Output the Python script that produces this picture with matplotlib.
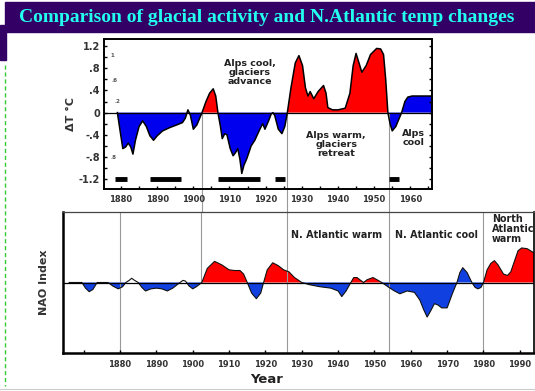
import numpy as np
import matplotlib.pyplot as plt
from matplotlib.patches import Rectangle
from matplotlib.lines import Line2D

# ---- upper panel: Alpine temperature anomaly (deg C) ----
t_years = [1879.0, 1879.8, 1880.5, 1881.3, 1882.0, 1882.7, 1883.3, 1884.0, 1885.0, 1886.0,
           1887.0, 1888.0, 1889.0, 1890.0, 1891.5, 1893.5, 1895.5, 1897.0, 1897.8, 1898.5,
           1899.2, 1900.0, 1901.0, 1902.4, 1903.5, 1904.5, 1905.5, 1906.2, 1906.8, 1907.5,
           1908.0, 1908.7, 1909.3, 1910.2, 1911.0, 1911.7, 1912.3, 1912.9, 1913.4, 1914.0,
           1914.8, 1916.0, 1917.0, 1918.4, 1919.2, 1919.8, 1920.8, 1921.5, 1922.0, 1922.5,
           1923.5, 1924.5, 1925.3, 1926.0, 1927.0, 1928.2, 1929.2, 1930.2, 1931.0, 1931.7,
           1932.3, 1932.7, 1933.3, 1934.5, 1936.0, 1936.7, 1937.2, 1938.5, 1940.0, 1942.0,
           1943.3, 1944.2, 1945.0, 1945.8, 1946.6, 1947.8, 1949.0, 1950.7, 1951.8, 1952.6,
           1953.2, 1953.8, 1954.4, 1955.0, 1956.0, 1957.6, 1958.5, 1959.3, 1960.5, 1962.0,
           1966.0]
t_anom = [0.0, -0.35, -0.65, -0.62, -0.55, -0.62, -0.75, -0.5, -0.25, -0.15,
          -0.25, -0.42, -0.5, -0.42, -0.33, -0.27, -0.22, -0.18, -0.1, 0.05,
          -0.05, -0.3, -0.22, 0.0, 0.2, 0.35, 0.43, 0.3, 0.0, -0.25,
          -0.47, -0.38, -0.4, -0.65, -0.78, -0.72, -0.65, -0.85, -1.1, -0.95,
          -0.83, -0.6, -0.5, -0.3, -0.2, -0.3, -0.15, -0.03, 0.0, -0.05,
          -0.3, -0.38, -0.25, 0.0, 0.45, 0.9, 1.03, 0.85, 0.45, 0.3,
          0.38, 0.33, 0.25, 0.38, 0.49, 0.35, 0.09, 0.05, 0.05, 0.08,
          0.35, 0.85, 1.07, 0.9, 0.73, 0.85, 1.05, 1.16, 1.15, 1.05,
          0.6, 0.0, -0.2, -0.33, -0.25, 0.0, 0.2, 0.28, 0.3, 0.3,
          0.3]
# glacier advance periods (black bars)
advance = [(1878.3, 1881.6), (1888.0, 1896.6), (1906.8, 1918.4), (1922.5, 1925.3), (1954.0, 1956.8)]

# ---- lower panel: NAO index ----
nao_years = [1866.0, 1869.5, 1870.5, 1871.5, 1872.5, 1873.7, 1876.7, 1878.0, 1879.5, 1880.7,
             1881.6, 1882.5, 1883.2, 1884.0, 1885.0, 1886.0, 1887.0, 1888.5, 1890.0, 1891.5,
             1893.0, 1894.5, 1896.5, 1897.3, 1898.0, 1899.0, 1900.0, 1901.0, 1902.5, 1904.0,
             1906.0, 1908.0, 1910.0, 1911.5, 1913.0, 1914.0, 1915.0, 1916.2, 1917.5, 1918.7,
             1919.5, 1920.5, 1922.0, 1923.5, 1925.0, 1926.5, 1928.0, 1930.0, 1932.0, 1935.0,
             1938.0, 1940.0, 1941.0, 1942.2, 1943.5, 1944.3, 1945.2, 1946.2, 1947.0, 1948.0,
             1949.6, 1951.0, 1952.0, 1954.0, 1955.5, 1957.0, 1959.0, 1961.0, 1962.5, 1963.5,
             1964.5, 1965.5, 1966.5, 1967.5, 1968.5, 1970.0, 1971.5, 1972.7, 1973.5, 1974.3,
             1975.5, 1976.8, 1977.7, 1978.5, 1979.3, 1980.0, 1981.0, 1982.0, 1983.0, 1984.0,
             1985.5, 1986.6, 1987.5, 1988.5, 1989.5, 1990.5, 1992.0, 1993.9]
nao = [0.0, 0.0, -0.08, -0.13, -0.1, 0.0, 0.0, -0.05, -0.09, -0.06,
       0.0, 0.03, 0.06, 0.03, 0.0, -0.07, -0.12, -0.09, -0.08, -0.09,
       -0.12, -0.08, 0.0, 0.03, 0.02, -0.05, -0.09, -0.06, 0.0, 0.2,
       0.3, 0.25, 0.18, 0.17, 0.17, 0.12, 0.0, -0.15, -0.23, -0.15,
       0.0, 0.18, 0.28, 0.24, 0.18, 0.15, 0.07, 0.0, -0.03, -0.06,
       -0.08, -0.12, -0.2, -0.12, 0.0, 0.07, 0.07, 0.03, 0.0, 0.04,
       0.07, 0.03, 0.0, -0.07, -0.12, -0.16, -0.12, -0.14, -0.25, -0.38,
       -0.49, -0.4, -0.3, -0.32, -0.36, -0.36, -0.15, 0.0, 0.14, 0.21,
       0.14, 0.0, -0.07, -0.09, -0.07, 0.0, 0.18, 0.27, 0.31, 0.25,
       0.12, 0.1, 0.15, 0.3, 0.45, 0.49, 0.48, 0.42]
nao_white = [(1882.0, 1885.0), (1896.5, 1898.5)]
nao_blue_pos = [(1972.7, 1976.8)]

RED = '#ff0000'
BLUE = '#0000ee'
BLUE2 = '#1040e0'

fig = plt.figure(figsize=(5.35, 3.91), dpi=100)
W, H = 535.0, 391.0

# title banner and slide decorations
fig.patches.append(Rectangle((5 / W, 1 - 32 / H), 530 / W, 30 / H, transform=fig.transFigure,
                             color='#330066', zorder=0))
fig.patches.append(Rectangle((0, 1 - 60 / H), 6 / W, 35 / H, transform=fig.transFigure,
                             color='#330066', zorder=0))
fig.lines.append(Line2D([5 / W, 5 / W], [1 - 65 / H, 1 - 386 / H], transform=fig.transFigure,
                        color='#33cc33', lw=1, ls=(0, (3, 2))))
fig.lines.append(Line2D([0, 1], [1 - 389 / H, 1 - 389 / H], transform=fig.transFigure,
                        color='#cccccc', lw=0.8))
fig.text(267 / W, 1 - 18 / H, 'Comparison of glacial activity and N.Atlantic temp changes',
         ha='center', va='center', color='#22ffee', fontsize=14, fontweight='bold',
         family='Liberation Serif')

# ---------------- upper panel ----------------
ax1 = fig.add_axes([104 / W, 1 - 189 / H, 328 / W, 150 / H])
x = np.array(t_years)
y = np.array(t_anom)
late = x > 1956.5
ax1.fill_between(x, 0, y, where=(y >= 0) & ~late, color=RED, interpolate=True, lw=0)
ax1.fill_between(x, 0, y, where=(y <= 0) | late, color=BLUE, interpolate=True, lw=0)
ax1.plot(x, y, color='black', lw=1.1)
ax1.axhline(0, color='black', lw=0.9)
for a, b in advance:
    ax1.plot([a, b], [-1.2, -1.2], color='black', lw=3.5, solid_capstyle='butt')
ax1.set_xlim(1875.3, 1966)
ax1.set_ylim(-1.38, 1.33)
zero_frac = 1.38 / (1.33 + 1.38)
for yr in [1902.4, 1926.0, 1954.0]:
    ax1.axvline(yr, ymin=-23 / 150, ymax=zero_frac, color='#999999', lw=0.8, clip_on=False, zorder=1)

ax1.set_xticks(np.arange(1880, 1961, 10))
ax1.set_xticks(np.arange(1880, 1966, 5), minor=True)
ax1.set_yticks([-1.2, -0.8, -0.4, 0, 0.4, 0.8, 1.2])
ax1.set_yticklabels(['-1.2', '-.8', '-.4', '0', '.4', '.8', '1.2'])
ax1.set_yticks([-1.0, -0.6, -0.2, 0.2, 0.6, 1.0], minor=True)
ax1.tick_params(axis='both', which='both', direction='in', length=2.5, width=1, colors='black',
                right=True)
ax1.tick_params(axis='x', labelsize=6, pad=4)
ax1.tick_params(axis='y', labelsize=7, pad=3)
for lab in ax1.get_xticklabels() + ax1.get_yticklabels():
    lab.set_fontweight('bold')
    lab.set_color('#333333')
for sp in ax1.spines.values():
    sp.set_linewidth(1.4)
ax1.set_ylabel('ΔT °C', fontsize=8, fontweight='bold', color='#333333', labelpad=2)

for s, (xx, yy) in zip(['1', '.6', '.2', '.8'], [(1877.0, 1.0), (1877.4, 0.55), (1878.3, 0.18), (1877.0, -0.83)]):
    ax1.text(xx, yy, s, fontsize=4, color='#555555', fontweight='bold')

ax1.text(1915.6, 0.72, 'Alps cool,\nglaciers\nadvance', ha='center', va='center', fontsize=6.8,
         fontweight='bold', color='#222222', linespacing=1.0)
ax1.text(1939.5, -0.58, 'Alps warm,\nglaciers\nretreat', ha='center', va='center', fontsize=6.8,
         fontweight='bold', color='#222222', linespacing=1.0)
ax1.text(1961.0, -0.45, 'Alps\ncool', ha='center', va='center', fontsize=6.8,
         fontweight='bold', color='#222222', linespacing=1.0)

# ---------------- lower panel ----------------
ax2 = fig.add_axes([63 / W, 1 - 353 / H, 471 / W, 141 / H])
xn = np.array(nao_years)
yn = np.array(nao)
in_white = np.zeros_like(xn, dtype=bool)
for a, b in nao_white:
    in_white |= (xn >= a) & (xn <= b)
in_bpos = np.zeros_like(xn, dtype=bool)
for a, b in nao_blue_pos:
    in_bpos |= (xn >= a) & (xn <= b)
ax2.fill_between(xn, 0, yn, where=(yn >= 0) & ~in_white & ~in_bpos, color=RED, interpolate=True, lw=0)
ax2.fill_between(xn, 0, yn, where=(yn <= 0) | in_bpos, color=BLUE2, interpolate=True, lw=0)
ax2.plot(xn, yn, color='#111111', lw=0.8)
ax2.axhline(0, color='black', lw=0.9)
ax2.set_xlim(1864.3, 1993.9)
ax2.set_ylim(-1, 1)
for yr in [1880.0, 1926.0, 1954.0, 1980.0]:
    ax2.axvline(yr, color='#999999', lw=0.8, zorder=1)
ax2.axvline(1902.4, ymin=0.5, ymax=1, color='#999999', lw=0.8, zorder=1)

ax2.set_xticks([1870, 1880, 1890, 1900, 1910, 1920, 1930, 1940, 1950, 1960, 1970, 1980, 1990])
ax2.set_xticklabels([''] + [str(v) for v in range(1880, 1991, 10)])
ax2.set_yticks([])
ax2.tick_params(axis='x', direction='in', length=2.5, width=1, labelsize=6, pad=5)
for lab in ax2.get_xticklabels():
    lab.set_fontweight('bold')
    lab.set_color('#333333')
ax2.spines['left'].set_linewidth(1.8)
ax2.spines['bottom'].set_linewidth(1.8)
ax2.spines['top'].set_linewidth(0.9)
ax2.spines['right'].set_linewidth(1.2)
ax2.spines['top'].set_color('#444444')
ax2.set_ylabel('NAO Index', fontsize=8, fontweight='bold', color='#333333', labelpad=10)
ax2.set_xlabel('Year', fontsize=9.5, fontweight='bold', color='#222222')
ax2.xaxis.set_label_coords(0.433, -0.145)

ax2.text(1939.5, 0.68, 'N. Atlantic warm', ha='center', va='center', fontsize=6.9,
         fontweight='bold', color='#222222')
ax2.text(1967.0, 0.68, 'N. Atlantic cool', ha='center', va='center', fontsize=6.9,
         fontweight='bold', color='#222222')
ax2.text(1982.3, 0.76, 'North\nAtlantic\nwarm', ha='left', va='center', fontsize=6.9,
         fontweight='bold', color='#222222', linespacing=1.05)

fig.savefig('out.png', dpi=100)
